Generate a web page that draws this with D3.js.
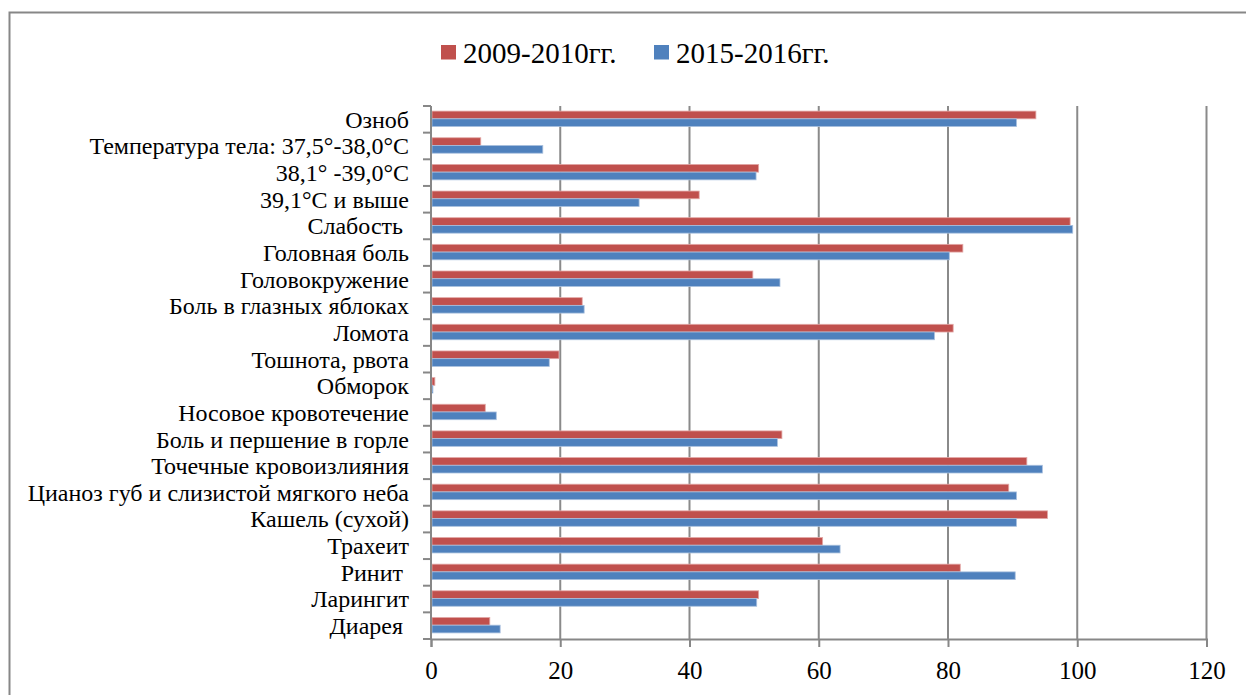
<!DOCTYPE html>
<html>
<head>
<meta charset="utf-8">
<script src="https://cdn.jsdelivr.net/npm/d3@7"></script>
<style>
  html, body { margin: 0; padding: 0; background: #fff; }
  svg { display: block; }
  text { font-family: "Liberation Serif", "Times New Roman", serif; fill: #000; white-space: pre; }
</style>
</head>
<body>
<svg id="chart" width="1246" height="695"></svg>
<script>
// Symptom categories, listed top to bottom
const categories = [
  "Озноб",
  "Температура тела: 37,5°-38,0°С",
  "38,1° -39,0°С",
  "39,1°С и выше",
  "Слабость ",
  "Головная боль",
  "Головокружение",
  "Боль в глазных яблоках",
  "Ломота",
  "Тошнота, рвота",
  "Обморок",
  "Носовое кровотечение",
  "Боль и першение в горле",
  "Точечные кровоизлияния",
  "Цианоз губ и слизистой мягкого неба",
  "Кашель (сухой)",
  "Трахеит",
  "Ринит ",
  "Ларингит",
  "Диарея "
];

// Share of patients (%) per season
const values2009 = [93.6, 7.7, 50.7, 41.5, 98.9, 82.3, 49.8, 23.4, 80.8, 19.8, 0.6, 8.4, 54.3, 92.2, 89.4, 95.4, 60.6, 81.9, 50.7, 9.1];
const values2015 = [90.6, 17.3, 50.3, 32.2, 99.3, 80.2, 54.0, 23.7, 77.9, 18.3, 0.3, 10.1, 53.6, 94.6, 90.6, 90.6, 63.3, 90.4, 50.4, 10.7];

const seriesNames = ["2009-2010гг.", "2015-2016гг."];
const seriesColors = ["#C0504D", "#4F81BD"];
const seriesStroke = ["#E3A9A7", "#A9C0DE"];
const xTicks = [0, 20, 40, 60, 80, 100, 120];

const svg = d3.select("#chart");

// Outer chart frame
svg.append("rect")
  .attr("x", 9.5).attr("y", 12.5)
  .attr("width", 1300).attr("height", 800)
  .attr("fill", "none")
  .attr("stroke", "#878787")
  .attr("stroke-width", 2);

const plot = { left: 431, right: 1206.5, top: 106, bottom: 639 };

const x = d3.scaleLinear().domain([0, 120]).range([plot.left, plot.right]);
const y = d3.scaleBand().domain(categories).range([plot.top, plot.bottom]).paddingInner(0).paddingOuter(0);

// Two bars per category, the pair occupying the middle of the band
const groupFrac = 0.58;
const ySeries = d3.scaleBand()
  .domain(d3.range(seriesNames.length))
  .range([0, y.bandwidth() * groupFrac]);
const groupOffset = (y.bandwidth() * (1 - groupFrac)) / 2 - 0.5;

// Vertical gridlines
svg.append("g").selectAll("line")
  .data(xTicks.filter(d => d > 0))
  .join("line")
  .attr("x1", d => x(d)).attr("x2", d => x(d))
  .attr("y1", plot.top).attr("y2", plot.bottom)
  .attr("stroke", "#8a8a8a")
  .attr("stroke-width", 2);

// Bars
const series = [values2009, values2015];
series.forEach((vals, si) => {
  svg.append("g").selectAll("rect")
    .data(categories.map((c, i) => ({ c, v: vals[i] })))
    .join("rect")
    .attr("x", x(0) + 1)
    .attr("y", d => y(d.c) + groupOffset + ySeries(si))
    .attr("width", d => Math.max(0, x(d.v) - x(0) - 1))
    .attr("height", ySeries.bandwidth())
    .attr("fill", seriesColors[si])
    .attr("stroke", seriesStroke[si])
    .attr("stroke-width", 0.8);
});

// Category axis (left) with ticks on band boundaries
const axisColor = "#878787";
svg.append("line")
  .attr("x1", plot.left).attr("x2", plot.left)
  .attr("y1", plot.top).attr("y2", plot.bottom)
  .attr("stroke", axisColor).attr("stroke-width", 2);
const step = y.step();
svg.append("g").selectAll("line")
  .data(d3.range(categories.length + 1))
  .join("line")
  .attr("x1", plot.left - 8).attr("x2", plot.left)
  .attr("y1", i => y.range()[0] + i * step)
  .attr("y2", i => y.range()[0] + i * step)
  .attr("stroke", axisColor).attr("stroke-width", 2);

svg.append("g").selectAll("text")
  .data(categories)
  .join("text")
  .attr("x", 409)
  .attr("y", d => y(d) + y.bandwidth() / 2)
  .attr("dy", "0.35em")
  .attr("text-anchor", "end")
  .attr("font-size", 24)
  .text(d => d);

// Value axis (bottom)
const xAxis = d3.axisBottom(x).tickValues(xTicks).tickSize(8).tickPadding(14).tickFormat(d3.format("d"));
const gx = svg.append("g")
  .attr("transform", `translate(0,${plot.bottom})`)
  .call(xAxis);
gx.select(".domain").attr("stroke", axisColor).attr("stroke-width", 2);
gx.selectAll(".tick line").attr("stroke", axisColor).attr("stroke-width", 2);
gx.selectAll(".tick text")
  .attr("font-size", 25)
  .attr("fill", "#000");

// Legend
const legendItems = [
  { name: seriesNames[0], color: seriesColors[0], x: 441 },
  { name: seriesNames[1], color: seriesColors[1], x: 654 }
];
const lg = svg.append("g").selectAll("g")
  .data(legendItems)
  .join("g")
  .attr("transform", d => `translate(${d.x},45)`);
lg.append("rect")
  .attr("width", 15).attr("height", 14.5)
  .attr("fill", d => d.color);
lg.append("text")
  .attr("x", 22)
  .attr("y", 8)
  .attr("dy", "0.35em")
  .attr("font-size", 29)
  .text(d => d.name);
</script>
</body>
</html>
